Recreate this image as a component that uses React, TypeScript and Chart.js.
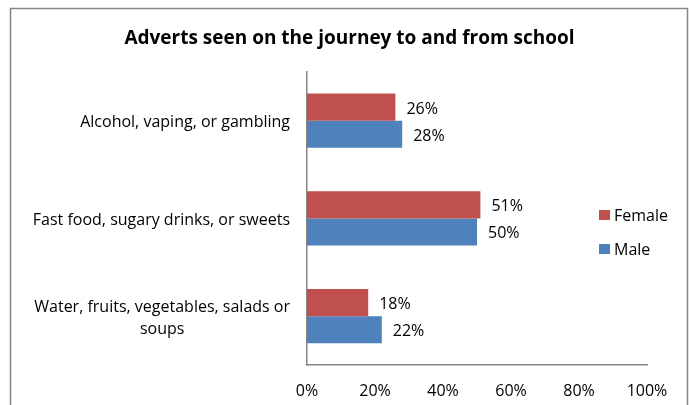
import React, { useEffect, useRef } from "react";
import { Chart, registerables } from "chart.js";

Chart.register(...registerables);

const titleText = "Adverts seen on the journey to and from school";
const categories: string[][] = [
  ["Alcohol, vaping, or gambling"],
  ["Fast food, sugary drinks, or sweets"],
  ["Water, fruits, vegetables, salads or", "soups"],
];
const seriesNames = ["Female", "Male"];
const femaleValues = [26, 51, 18];
const maleValues = [28, 50, 22];
const seriesColors = ["#C0504D", "#4F81BD"];
const xTickStep = 20;
const xMax = 100;

const FONT = "'Open Sans', Lato, 'Liberation Sans', sans-serif";
const AXIS_GREY = "#868686";
const FS = 16;

const decorPlugin = {
  id: "decor",
  beforeDraw(chart: any) {
    const { ctx, width, height } = chart;
    ctx.save();
    ctx.fillStyle = "#ffffff";
    ctx.fillRect(0, 0, width, height);
    ctx.restore();
  },
  afterDatasetsDraw(chart: any) {
    const { ctx } = chart;
    ctx.save();
    ctx.font = `${FS}px ${FONT}`;
    ctx.fillStyle = "#000000";
    ctx.textAlign = "left";
    ctx.textBaseline = "middle";
    chart.data.datasets.forEach((ds: any, di: number) => {
      const meta = chart.getDatasetMeta(di);
      meta.data.forEach((bar: any, i: number) => {
        ctx.fillText(ds.data[i] + "%", bar.x + 11, bar.y + 2);
      });
    });
    ctx.restore();
  },
  afterDraw(chart: any) {
    const { ctx, width } = chart;
    ctx.save();
    ctx.strokeStyle = AXIS_GREY;
    ctx.lineWidth = 1.5;
    ctx.strokeRect(10.5, 8.5, width - 14, 420);

    const yScale = chart.scales.y;
    ctx.font = `${FS}px ${FONT}`;
    ctx.fillStyle = "#000000";
    ctx.textAlign = "center";
    ctx.textBaseline = "middle";
    const right = yScale.right - 17;
    const lh = 22;
    categories.forEach((lines, i) => {
      const cy = yScale.getPixelForValue(i) + 2;
      const bw = Math.max(...lines.map((l) => ctx.measureText(l).width));
      const cx = right - bw / 2;
      const startY = cy - ((lines.length - 1) * lh) / 2;
      lines.forEach((l, k) => ctx.fillText(l, cx, startY + k * lh));
    });

    const lx = chart.chartArea.right - 48;
    const ly0 = 215;
    const gap = 34;
    chart.data.datasets.forEach((ds: any, di: number) => {
      const y = ly0 + di * gap;
      ctx.fillStyle = ds.backgroundColor;
      ctx.fillRect(lx, y - 5, 11, 10);
      ctx.fillStyle = "#000000";
      ctx.textAlign = "left";
      ctx.fillText(ds.label, lx + 15, y + 1);
    });
    ctx.restore();
  },
};

export default function App() {
  const ref = useRef<HTMLCanvasElement>(null);
  useEffect(() => {
    if (!ref.current) return;
    const chart = new Chart(ref.current, {
      type: "bar",
      data: {
        labels: categories.map((c) => c.join(" ")),
        datasets: [
          { label: seriesNames[0], data: femaleValues, backgroundColor: seriesColors[0] },
          { label: seriesNames[1], data: maleValues, backgroundColor: seriesColors[1] },
        ],
      },
      options: {
        indexAxis: "y",
        responsive: false,
        animation: false,
        devicePixelRatio: 1,
        layout: { padding: { left: 11, right: 3, top: 0, bottom: 0 } },
        datasets: { bar: { categoryPercentage: 0.554, barPercentage: 1 } },
        plugins: {
          legend: { display: false },
          tooltip: { enabled: false },
          title: {
            display: true,
            text: titleText,
            color: "#000000",
            font: { family: FONT, size: 19, weight: "bold" },
            padding: { top: 27, bottom: 22 },
          },
        },
        scales: {
          x: {
            type: "linear",
            min: 0,
            max: xMax,
            ticks: {
              stepSize: xTickStep,
              callback: (v: any) => v + "%",
              color: "#000000",
              font: { family: FONT, size: FS },
              padding: 9,
            },
            grid: { display: false },
            border: { display: true, color: AXIS_GREY, width: 1.5 },
            afterFit: (s: any) => { s.height = 40; },
          },
          y: {
            type: "category",
            ticks: { display: false },
            grid: { display: false },
            border: { display: true, color: AXIS_GREY, width: 1.5 },
            afterFit: (s: any) => { s.width = 296; },
          },
          yRight: {
            type: "linear",
            position: "right",
            display: true,
            ticks: { display: false },
            grid: { display: false },
            border: { display: false },
            afterFit: (s: any) => { s.width = 41; },
          },
        },
      } as any,
      plugins: [decorPlugin],
    });
    return () => chart.destroy();
  }, []);
  return (
    <div style={{ position: "fixed", left: 0, top: 0, width: 691, height: 405, background: "#fff" }}>
      <canvas ref={ref} width={691} height={405} />
    </div>
  );
}
